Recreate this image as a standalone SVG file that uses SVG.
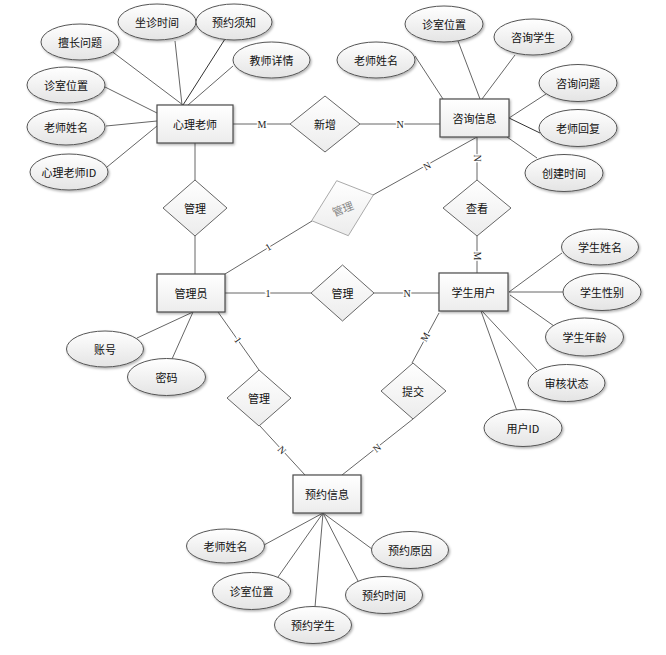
<svg xmlns="http://www.w3.org/2000/svg" width="666" height="655" viewBox="0 0 666 655">
<defs>
<linearGradient id="gE" x1="0" y1="0" x2="0" y2="1"><stop offset="0" stop-color="#ffffff"/><stop offset="1" stop-color="#e4e4e4"/></linearGradient>
<linearGradient id="gR" x1="0" y1="0" x2="0" y2="1"><stop offset="0" stop-color="#ffffff"/><stop offset="1" stop-color="#ececec"/></linearGradient>
<filter id="sh" x="-20%" y="-20%" width="140%" height="150%"><feDropShadow dx="1.2" dy="1.5" stdDeviation="0.8" flood-color="#000" flood-opacity="0.3"/></filter>
<style>
.ent{fill:url(#gR);stroke:#4a4a4a;stroke-width:1.2;filter:url(#sh)}
.att{fill:url(#gE);stroke:#555;stroke-width:1;filter:url(#sh)}
.rel{fill:url(#gR);stroke:#666;stroke-width:1}
.relg{fill:url(#gR);stroke:#aaa;stroke-width:1}
.t{font-family:"Noto Sans CJK SC","Noto Sans",sans-serif;font-size:11px;fill:#111;text-anchor:middle;dominant-baseline:central}
.tg{fill:#888}
.ln{stroke:#666;stroke-width:1;fill:none}
.lnd{stroke:#333;stroke-width:1;fill:none}
.lb{font-family:"Liberation Serif",serif;font-size:10px;fill:#222;text-anchor:middle;dominant-baseline:central;stroke:#fff;stroke-width:3;paint-order:stroke}
</style>
</defs>
<rect width="666" height="655" fill="#fff"/>

<g id="connectors">
<!-- 心理老师 attributes -->
<line class="ln" x1="110" y1="50" x2="183" y2="105"/>
<line class="ln" x1="175" y1="41" x2="182" y2="105"/>
<line class="lnd" x1="225" y1="39" x2="183" y2="105"/>
<line class="ln" x1="233" y1="66" x2="188" y2="105"/>
<line class="ln" x1="105" y1="87" x2="157" y2="113"/>
<line class="ln" x1="106" y1="126" x2="157" y2="121"/>
<line class="ln" x1="107" y1="167" x2="157" y2="126"/>
<!-- 咨询信息 attributes -->
<line class="ln" x1="415" y1="56" x2="443" y2="99"/>
<line class="ln" x1="458" y1="41" x2="480" y2="99"/>
<line class="ln" x1="515" y1="55" x2="482" y2="99"/>
<line class="ln" x1="546" y1="94" x2="509" y2="118"/>
<line class="lnd" x1="509" y1="118" x2="540" y2="133"/>
<line class="ln" x1="507" y1="137" x2="537" y2="158"/>
<!-- 管理员 attributes -->
<line class="ln" x1="137" y1="338" x2="193" y2="312"/>
<line class="ln" x1="172" y1="359" x2="193" y2="312"/>
<!-- 学生用户 attributes -->
<line class="ln" x1="509" y1="292" x2="562" y2="253"/>
<line class="ln" x1="509" y1="292" x2="563" y2="292"/>
<line class="ln" x1="510" y1="295" x2="554" y2="326"/>
<line class="ln" x1="482" y1="311" x2="537" y2="370"/>
<line class="ln" x1="481" y1="311" x2="517" y2="411"/>
<!-- 预约信息 attributes -->
<line class="ln" x1="323" y1="513" x2="264" y2="545"/>
<line class="ln" x1="323" y1="513" x2="278" y2="577"/>
<line class="ln" x1="323" y1="513" x2="315" y2="607"/>
<line class="ln" x1="323" y1="513" x2="358" y2="581"/>
<line class="ln" x1="323" y1="513" x2="372" y2="549"/>
<!-- relationships -->
<line class="ln" x1="233" y1="124" x2="290" y2="124"/>
<line class="ln" x1="360" y1="124" x2="440" y2="124"/>
<line class="ln" x1="195" y1="143" x2="195" y2="180"/>
<line class="ln" x1="195" y1="236" x2="195" y2="274"/>
<line class="ln" x1="477" y1="137" x2="477" y2="180"/>
<line class="ln" x1="477" y1="236" x2="477" y2="273"/>
<line class="ln" x1="477" y1="137" x2="373" y2="195"/>
<line class="ln" x1="312" y1="221" x2="225" y2="274"/>
<line class="ln" x1="225" y1="293" x2="311" y2="293"/>
<line class="ln" x1="374" y1="293" x2="439" y2="293"/>
<line class="ln" x1="218" y1="312" x2="259" y2="370"/>
<line class="ln" x1="260" y1="426" x2="305" y2="475"/>
<line class="ln" x1="439" y1="313" x2="412" y2="363"/>
<line class="ln" x1="413" y1="419" x2="342" y2="475"/>
<!-- cardinality labels -->
<text class="lb" x="262" y="124">M</text>
<text class="lb" x="400" y="124">N</text>
<text class="lb" transform="translate(477,158) rotate(90)">N</text>
<text class="lb" transform="translate(477,256) rotate(90)">M</text>
<text class="lb" transform="translate(427,166) rotate(-29)">N</text>
<text class="lb" transform="translate(268,247) rotate(-31)">1</text>
<text class="lb" x="268" y="293">1</text>
<text class="lb" x="407" y="293">N</text>
<text class="lb" transform="translate(238,340) rotate(55)">1</text>
<text class="lb" transform="translate(282,450) rotate(47)">N</text>
<text class="lb" transform="translate(425,337) rotate(-61)">M</text>
<text class="lb" transform="translate(377,448) rotate(-38)">N</text>
</g>

<!-- entities -->
<g id="e-xinlilaoshi"><rect class="ent" x="157" y="105" width="76" height="38"/><text class="t" x="195" y="124">心理老师</text></g>
<g id="e-zixunxinxi"><rect class="ent" x="440" y="99" width="69" height="38"/><text class="t" x="474.5" y="118">咨询信息</text></g>
<g id="e-guanliyuan"><rect class="ent" x="157" y="274" width="68" height="38"/><text class="t" x="191" y="293">管理员</text></g>
<g id="e-xueshengyonghu"><rect class="ent" x="439" y="273" width="69" height="38"/><text class="t" x="473.5" y="292">学生用户</text></g>
<g id="e-yuyuexinxi"><rect class="ent" x="293" y="475" width="68" height="38"/><text class="t" x="327" y="494">预约信息</text></g>

<!-- relationships -->
<g id="r-xinzeng"><polygon class="rel" points="325,96 360,124 325,152 290,124"/><text class="t" x="325" y="124">新增</text></g>
<g id="r-guanli1"><polygon class="rel" points="195,180 227,208 195,236 163,208"/><text class="t" x="195" y="208">管理</text></g>
<g id="r-guanli2"><polygon class="relg" points="336.7,180.7 373.3,195 348.3,235.7 311.7,220.7"/><text class="t tg" transform="translate(342.5,208) rotate(-22)">管理</text></g>
<g id="r-chakan"><polygon class="rel" points="477,180 511,208 477,236 443,208"/><text class="t" x="477" y="208">查看</text></g>
<g id="r-guanli3"><polygon class="rel" points="342.5,265 374,293 342.5,321 311,293"/><text class="t" x="342.5" y="293">管理</text></g>
<g id="r-guanli4"><polygon class="rel" points="259,370 291,398 259,426 227,398"/><text class="t" x="259" y="398">管理</text></g>
<g id="r-tijiao"><polygon class="rel" points="413,363 446,391 413,419 381,391"/><text class="t" x="413" y="391">提交</text></g>

<!-- attributes of 心理老师 -->
<g id="a-shanchang"><ellipse class="att" cx="80" cy="42" rx="39" ry="18"/><text class="t" x="80" y="42">擅长问题</text></g>
<g id="a-zuozhen"><ellipse class="att" cx="157" cy="22" rx="39" ry="18"/><text class="t" x="157" y="22">坐诊时间</text></g>
<g id="a-yuyuexuzhi"><ellipse class="att" cx="234" cy="22" rx="38" ry="18"/><text class="t" x="234" y="22">预约须知</text></g>
<g id="a-jiaoshi"><ellipse class="att" cx="271.5" cy="60" rx="38.5" ry="18"/><text class="t" x="271.5" y="60">教师详情</text></g>
<g id="a-zhenshi1"><ellipse class="att" cx="66" cy="85" rx="39" ry="18"/><text class="t" x="66" y="85">诊室位置</text></g>
<g id="a-laoshi1"><ellipse class="att" cx="66" cy="127" rx="39" ry="18"/><text class="t" x="66" y="127">老师姓名</text></g>
<g id="a-laoshiid"><ellipse class="att" cx="69" cy="172" rx="39" ry="18"/><text class="t" x="69" y="172">心理老师ID</text></g>

<!-- attributes of 咨询信息 -->
<g id="a-laoshi2"><ellipse class="att" cx="376" cy="60" rx="39" ry="18"/><text class="t" x="376" y="60">老师姓名</text></g>
<g id="a-zhenshi2"><ellipse class="att" cx="444" cy="24" rx="39" ry="18"/><text class="t" x="444" y="24">诊室位置</text></g>
<g id="a-zixunxuesheng"><ellipse class="att" cx="533" cy="37" rx="39" ry="18"/><text class="t" x="533" y="37">咨询学生</text></g>
<g id="a-zixunwenti"><ellipse class="att" cx="578" cy="83" rx="39" ry="18.5"/><text class="t" x="578" y="83">咨询问题</text></g>
<g id="a-laoshihuifu"><ellipse class="att" cx="578" cy="128" rx="39" ry="18.5"/><text class="t" x="578" y="128">老师回复</text></g>
<g id="a-chuangjian"><ellipse class="att" cx="564" cy="173" rx="39" ry="18.5"/><text class="t" x="564" y="173">创建时间</text></g>

<!-- attributes of 管理员 -->
<g id="a-zhanghao"><ellipse class="att" cx="105" cy="349" rx="38.5" ry="18"/><text class="t" x="105" y="349">账号</text></g>
<g id="a-mima"><ellipse class="att" cx="166.5" cy="377" rx="39" ry="18.5"/><text class="t" x="166.5" y="377">密码</text></g>

<!-- attributes of 学生用户 -->
<g id="a-xsxm"><ellipse class="att" cx="600" cy="247" rx="38.5" ry="18"/><text class="t" x="600" y="247">学生姓名</text></g>
<g id="a-xsxb"><ellipse class="att" cx="602" cy="292" rx="39" ry="18.5"/><text class="t" x="602" y="292">学生性别</text></g>
<g id="a-xsnl"><ellipse class="att" cx="584.5" cy="337" rx="39" ry="19"/><text class="t" x="584.5" y="337">学生年龄</text></g>
<g id="a-shzt"><ellipse class="att" cx="566.5" cy="383" rx="38.5" ry="18.5"/><text class="t" x="566.5" y="383">审核状态</text></g>
<g id="a-yhid"><ellipse class="att" cx="523" cy="428" rx="39" ry="18.5"/><text class="t" x="523" y="428">用户ID</text></g>

<!-- attributes of 预约信息 -->
<g id="a-laoshi3"><ellipse class="att" cx="225.5" cy="546" rx="39" ry="17"/><text class="t" x="225.5" y="546">老师姓名</text></g>
<g id="a-zhenshi3"><ellipse class="att" cx="251.5" cy="591" rx="39" ry="18.5"/><text class="t" x="251.5" y="591">诊室位置</text></g>
<g id="a-yyxs"><ellipse class="att" cx="313" cy="625" rx="38.5" ry="18.5"/><text class="t" x="313" y="625">预约学生</text></g>
<g id="a-yysj"><ellipse class="att" cx="384" cy="595" rx="38.5" ry="18.5"/><text class="t" x="384" y="595">预约时间</text></g>
<g id="a-yyyy"><ellipse class="att" cx="410" cy="550" rx="38.5" ry="18.5"/><text class="t" x="410" y="550">预约原因</text></g>
</svg>
